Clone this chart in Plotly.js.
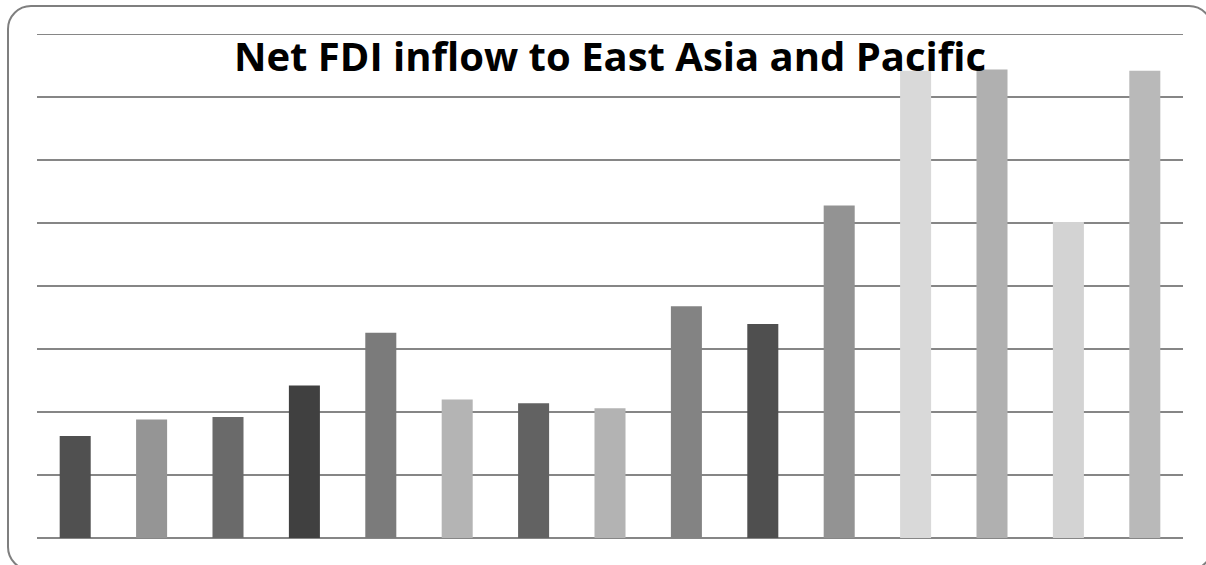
<!DOCTYPE html>
<html>
<head>
<meta charset="utf-8">
<script src="https://cdn.plot.ly/plotly-3.0.1.min.js"></script>
<style>
  html, body { margin: 0; padding: 0; background: #ffffff; overflow: hidden; }
  #wrap { position: relative; width: 1206px; height: 565px; overflow: hidden; }
  #frame {
    position: absolute; left: 7px; top: 5px; width: 1206px; height: 566px;
    border: 2px solid #7f7f7f; border-radius: 24px; box-sizing: border-box;
    pointer-events: none; z-index: 2;
  }
  #chart { position: absolute; left: 0; top: 0; width: 1206px; height: 565px; }
</style>
</head>
<body>
<div id="wrap">
  <div id="chart"></div>
  <div id="frame"></div>
</div>
<script>
// Bar positions (one per period) and net inflow values
const bars = [1, 2, 3, 4, 5, 6, 7, 8, 9, 10, 11, 12, 13, 14, 15];
const inflow = [81, 94, 96, 121, 163, 110, 107, 103, 184, 170, 264, 371, 372, 251, 371];
const barColors = ['#505050', '#959595', '#6a6a6a', '#404040', '#7b7b7b',
                   '#b4b4b4', '#626262', '#b3b3b3', '#838383', '#4f4f4f',
                   '#939393', '#d9d9d9', '#b0b0b0', '#d3d3d3', '#b9b9b9'];
const chartTitle = 'Net FDI inflow to East Asia and Pacific';

const gridColor = '#868686';

const trace = {
  type: 'bar',
  x: bars,
  y: inflow,
  marker: { color: barColors, line: { width: 0 } },
  hoverinfo: 'none'
};

const layout = {
  width: 1206,
  height: 565,
  margin: { l: 37, r: 23, t: 33, b: 27, pad: 0 },
  paper_bgcolor: '#ffffff',
  plot_bgcolor: '#ffffff',
  showlegend: false,
  bargap: 0.594,
  title: {
    text: chartTitle,
    font: { family: '"Open Sans", Lato, sans-serif', size: 40, color: '#000000', weight: 'bold' },
    xref: 'paper', x: 0.5, xanchor: 'center',
    yref: 'container', y: 1 - 57 / 565, yanchor: 'middle'
  },
  xaxis: {
    type: 'category',
    showticklabels: false,
    showgrid: false,
    zeroline: false,
    showline: false,
    ticks: ''
  },
  yaxis: {
    // a little headroom so the 400 gridline sits just inside the plot edge
    range: [0, 401],
    dtick: 50,
    tick0: 0,
    showticklabels: false,
    showgrid: true,
    gridcolor: gridColor,
    gridwidth: 1.5,
    zeroline: true,
    zerolinecolor: gridColor,
    zerolinewidth: 1.5,
    showline: false,
    ticks: ''
  }
};

Plotly.newPlot('chart', [trace], layout, { staticPlot: true, displayModeBar: false });
</script>
</body>
</html>
